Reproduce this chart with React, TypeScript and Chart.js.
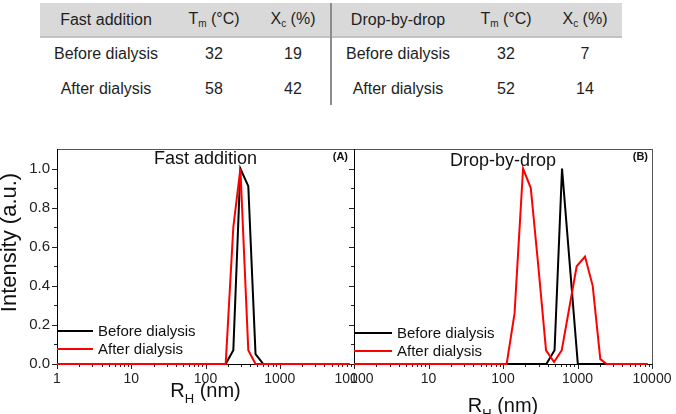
import React, { useEffect, useRef } from "react";
import { Chart, registerables } from "chart.js";

Chart.register(...registerables);

const FONT = "'Liberation Sans', Arial, Helvetica, sans-serif";

// ---- Summary table ----
const groupNames = ["Fast addition", "Drop-by-drop"];
const sampleRows = ["Before dialysis", "After dialysis"];
const fastTm = [32, 58];
const fastXc = [19, 42];
const dropTm = [32, 52];
const dropXc = [7, 14];

// ---- DLS size distributions (hydrodynamic radius in nm, normalised intensity) ----
const xTickValues = [1, 10, 100, 1000, 10000];
const yTickValues = [0, 0.2, 0.4, 0.6, 0.8, 1.0];

const fastBeforeR = [1, 187, 237, 295, 377, 472, 601, 8700];
const fastBeforeI = [0, 0, 0.07, 1.0, 0.91, 0.05, 0, 0];
const fastAfterR = [1, 187, 237, 295, 377, 472, 8700];
const fastAfterI = [0, 0, 0.7, 1.0, 0.07, 0, 0];

const dropBeforeR = [1, 382, 492, 620, 1010, 8700];
const dropBeforeI = [0, 0, 0.07, 1.0, 0, 0];
const dropAfterR = [1, 112, 143, 186, 236, 298, 378, 484, 614, 975, 1261, 1600, 2024, 2466, 8700];
const dropAfterI = [0, 0, 0.26, 1.0, 0.9, 0.5, 0.07, 0.01, 0.07, 0.5, 0.55, 0.4, 0.025, 0, 0];

const seriesLabels = ["Before dialysis", "After dialysis"];
const seriesColors = ["#000000", "#ff0000"];

const toPoints = (xs: number[], ys: number[]) => xs.map((x, i) => ({ x, y: ys[i] }));

// Frame, Origin-style tick marks, titles and legend for one panel
const panelDecor = {
  id: "panelDecor",
  beforeDatasetsDraw(chart: any) {
    const { ctx, chartArea: a, scales } = chart;
    const x = scales.x;
    const y = scales.y;
    ctx.save();
    ctx.strokeStyle = "#555";
    ctx.lineWidth = 1;
    ctx.strokeRect(Math.round(a.left) + 0.5, Math.round(a.top) + 0.5, Math.round(a.right - a.left), Math.round(a.bottom - a.top));
    ctx.strokeStyle = "#222";
    ctx.beginPath();
    // x axis: decades with 2..9 minor ticks
    for (let d = 0; d <= 4; d++) {
      for (let m = 1; m <= 9; m++) {
        const v = Math.pow(10, d) * m;
        if (v > 10000) break;
        const px = Math.round(x.getPixelForValue(v)) + 0.5;
        const len = m === 1 ? 5 : 3;
        ctx.moveTo(px, a.bottom);
        ctx.lineTo(px, a.bottom + len);
      }
    }
    // y axis: 0.1 steps, longer at 0.2
    for (let i = 0; i <= 10; i++) {
      const py = Math.round(y.getPixelForValue(i / 10)) + 0.5;
      const len = i % 2 === 0 ? 5 : 3;
      ctx.moveTo(a.left, py);
      ctx.lineTo(a.left - len, py);
    }
    ctx.stroke();
    // axis lines
    ctx.strokeStyle = "#000";
    ctx.beginPath();
    ctx.moveTo(Math.round(a.left) + 0.5, a.top);
    ctx.lineTo(Math.round(a.left) + 0.5, a.bottom + 0.5);
    ctx.lineTo(a.right, Math.round(a.bottom) + 0.5);
    ctx.stroke();
    ctx.restore();
  },
  afterDraw(chart: any, _args: any, o: any) {
    const { ctx, chartArea: a } = chart;
    const cx = (a.left + a.right) / 2;
    ctx.save();
    ctx.fillStyle = "#111";
    // panel title
    ctx.font = `18px ${FONT}`;
    ctx.textAlign = "center";
    ctx.textBaseline = "middle";
    ctx.fillText(o.title, cx, a.top + o.titleDy);
    // panel tag
    ctx.font = `bold 11px ${FONT}`;
    ctx.textAlign = "right";
    ctx.fillText(o.tag, a.right - o.tagInset, a.top + 8);
    // legend
    ctx.font = `15px ${FONT}`;
    ctx.textAlign = "left";
    chart.data.datasets
      .slice()
      .sort((p: any, q: any) => p.legendIndex - q.legendIndex)
      .forEach((ds: any, i: number) => {
        const ly = a.bottom - o.legendRise + i * 18;
        ctx.strokeStyle = ds.borderColor;
        ctx.lineWidth = 2;
        ctx.beginPath();
        ctx.moveTo(a.left, ly);
        ctx.lineTo(a.left + o.legendLine, ly);
        ctx.stroke();
        ctx.fillText(ds.label, a.left + o.legendLine + 5, ly + 1);
      });
    // x axis title: R_H (nm)
    ctx.fillStyle = "#111";
    ctx.textBaseline = "alphabetic";
    const big = `20px ${FONT}`;
    const small = `13px ${FONT}`;
    ctx.font = big;
    const wR = ctx.measureText("R").width;
    const wRest = ctx.measureText(" (nm)").width;
    ctx.font = small;
    const wH = ctx.measureText("H").width;
    let tx = cx - (wR + wH + wRest) / 2;
    const by = a.bottom + o.xTitleDy;
    ctx.font = big;
    ctx.fillText("R", tx, by);
    tx += wR;
    ctx.font = small;
    ctx.fillText("H", tx, by + 6);
    tx += wH;
    ctx.font = big;
    ctx.fillText(" (nm)", tx, by);
    // y axis title
    if (o.yTitle) {
      ctx.font = `22px ${FONT}`;
      ctx.textAlign = "center";
      ctx.textBaseline = "middle";
      ctx.translate(o.yTitleX, (a.top + a.bottom) / 2 + o.yTitleDy);
      ctx.rotate(-Math.PI / 2);
      ctx.fillText(o.yTitle, 0, 0);
    }
    ctx.restore();
  },
};

type PanelSpec = {
  before: { x: number; y: number }[];
  after: { x: number; y: number }[];
  yLabels: boolean;
  yWidth: number;
  padRight: number;
  decor: any;
};

function buildConfig(p: PanelSpec): any {
  return {
    type: "line",
    data: {
      datasets: [
        {
          label: seriesLabels[0],
          data: p.before,
          borderColor: seriesColors[0],
          borderWidth: 2,
          pointRadius: 0,
          tension: 0,
          clip: false,
          order: 1,
          legendIndex: 0,
        },
        {
          label: seriesLabels[1],
          data: p.after,
          borderColor: seriesColors[1],
          borderWidth: 2,
          pointRadius: 0,
          tension: 0,
          clip: false,
          order: 0,
          legendIndex: 1,
        },
      ],
    },
    options: {
      responsive: false,
      animation: false,
      events: [],
      layout: { padding: { left: 0, top: 9, right: p.padRight, bottom: 0 } },
      plugins: {
        legend: { display: false },
        tooltip: { enabled: false },
        title: { display: false },
        panelDecor: p.decor,
      },
      scales: {
        x: {
          type: "logarithmic",
          min: 1,
          max: 10000,
          grid: { display: false, drawTicks: false, tickLength: 0 },
          border: { display: false },
          afterBuildTicks: (s: any) => {
            s.ticks = xTickValues.map((v) => ({ value: v }));
          },
          afterFit: (s: any) => {
            s.height = 50;
            s.paddingLeft = 0;
            s.paddingRight = 0;
          },
          ticks: {
            autoSkip: false,
            maxRotation: 0,
            padding: 7,
            color: "#222",
            font: { family: FONT, size: 14 },
            callback: (v: any) => String(v),
          },
        },
        y: {
          type: "linear",
          min: 0,
          max: 1.1,
          grid: { display: false, drawTicks: false, tickLength: 0 },
          border: { display: false },
          afterBuildTicks: (s: any) => {
            s.ticks = yTickValues.map((v) => ({ value: v }));
          },
          afterFit: (s: any) => {
            s.width = p.yWidth;
            s.paddingTop = 0;
            s.paddingBottom = 0;
          },
          ticks: {
            display: p.yLabels,
            padding: 7,
            color: "#222",
            font: { family: FONT, size: 15 },
            callback: (v: any) => Number(v).toFixed(1),
          },
        },
      },
    },
    plugins: [panelDecor],
  };
}

function Panel(props: { spec: PanelSpec; left: number; width: number }) {
  const ref = useRef<HTMLCanvasElement | null>(null);
  useEffect(() => {
    if (!ref.current) return;
    const chart = new Chart(ref.current, buildConfig(props.spec));
    return () => chart.destroy();
  }, []);
  return (
    <canvas
      ref={ref}
      width={props.width}
      height={274}
      style={{ position: "absolute", left: props.left, top: 140, width: props.width, height: 274 }}
    />
  );
}

const colCenters = [106, 214, 293, 398, 506, 585];
const rowCenters = [20, 54, 89];

function Cell(props: { x: number; y: number; children: any }) {
  return (
    <div
      style={{
        position: "absolute",
        left: props.x,
        top: props.y,
        transform: "translate(-50%, -50%)",
        whiteSpace: "nowrap",
        fontFamily: FONT,
        fontSize: 16,
        color: "#1e1e1e",
        lineHeight: "18px",
      }}
    >
      {props.children}
    </div>
  );
}

const Tm = () => (
  <>
    T<span style={{ fontSize: 10, position: "relative", top: 3 }}>m</span> (°C)
  </>
);
const Xc = () => (
  <>
    X<span style={{ fontSize: 10, position: "relative", top: 3 }}>c</span> (%)
  </>
);

export default function App() {
  const fastSpec: PanelSpec = {
    before: toPoints(fastBeforeR, fastBeforeI),
    after: toPoints(fastAfterR, fastAfterI),
    yLabels: true,
    yWidth: 57,
    padRight: 26,
    decor: {
      title: groupNames[0],
      titleDy: 10,
      tag: "(A)",
      tagInset: 6,
      legendRise: 33,
      legendLine: 36,
      xTitleDy: 33,
      yTitle: "Intensity (a.u.)",
      yTitleX: 10,
      yTitleDy: -14,
    },
  };
  const dropSpec: PanelSpec = {
    before: toPoints(dropBeforeR, dropBeforeI),
    after: toPoints(dropAfterR, dropAfterI),
    yLabels: false,
    yWidth: 24,
    padRight: 24,
    decor: {
      title: groupNames[1],
      titleDy: 12,
      tag: "(B)",
      tagInset: 4,
      legendRise: 31,
      legendLine: 38,
      xTitleDy: 48,
      yTitle: "",
      yTitleX: 0,
      yTitleDy: 0,
    },
  };

  const values = [
    [fastTm, fastXc],
    [dropTm, dropXc],
  ];

  return (
    <div style={{ position: "absolute", left: 0, top: 0, width: 676, height: 414, background: "#fff", overflow: "hidden" }}>
      {/* table header band */}
      <div style={{ position: "absolute", left: 40, top: 3, width: 582, height: 33, background: "#d9d9d9", borderBottom: "2px solid #c2c2c2" }} />
      <div style={{ position: "absolute", left: 330, top: 3, width: 2, height: 102, background: "#8c8c8c" }} />
      {groupNames.map((g, gi) => (
        <React.Fragment key={g}>
          <Cell x={colCenters[gi * 3]} y={rowCenters[0]}>{g}</Cell>
          <Cell x={colCenters[gi * 3 + 1]} y={rowCenters[0]}><Tm /></Cell>
          <Cell x={colCenters[gi * 3 + 2]} y={rowCenters[0]}><Xc /></Cell>
          {sampleRows.map((r, ri) => (
            <React.Fragment key={r}>
              <Cell x={colCenters[gi * 3]} y={rowCenters[ri + 1]}>{r}</Cell>
              <Cell x={colCenters[gi * 3 + 1]} y={rowCenters[ri + 1]}>{values[gi][0][ri]}</Cell>
              <Cell x={colCenters[gi * 3 + 2]} y={rowCenters[ri + 1]}>{values[gi][1][ri]}</Cell>
            </React.Fragment>
          ))}
        </React.Fragment>
      ))}
      <Panel spec={fastSpec} left={0} width={380} />
      <Panel spec={dropSpec} left={330} width={346} />
    </div>
  );
}
